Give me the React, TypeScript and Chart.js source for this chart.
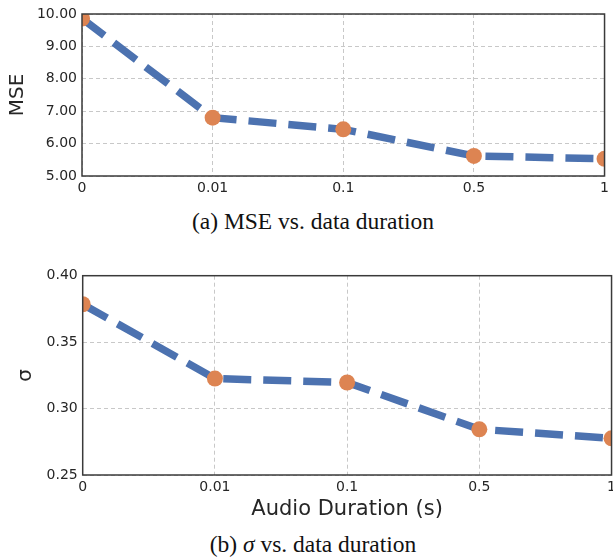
import React, { useEffect, useRef } from "react";
import { Chart, registerables } from "chart.js";

Chart.register(...registerables);

const durations = ["0", "0.01", "0.1", "0.5", "1"];
const mseValues = [9.86, 6.8, 6.44, 5.62, 5.53];
const sigmaValues = [0.3785, 0.3226, 0.3196, 0.2844, 0.2776];
const mseTicks = [5, 6, 7, 8, 9, 10];
const sigmaTicks = [0.25, 0.3, 0.35, 0.4];

const LINE_COLOR = "#4C72B0";
const POINT_COLOR = "#DD8452";
const GRID_COLOR = "#c8c8c8";
const TEXT_COLOR = "#262626";
const FONT = "'DejaVu Sans', sans-serif";

const framePlugin = {
  id: "frame",
  afterDatasetsDraw(chart: any) {
    const { ctx, chartArea: a } = chart;
    ctx.save();
    ctx.strokeStyle = "#3a3a3a";
    ctx.lineWidth = 1.5;
    ctx.strokeRect(a.left, a.top, a.right - a.left, a.bottom - a.top);
    ctx.restore();
  },
};

type Opts = {
  values: number[];
  ticks: number[];
  yTitle: string;
  xTitle?: string;
  padding: { left: number; top: number; right: number; bottom: number };
  yWidth: number;
  xHeight: number;
};

function makeConfig(o: Opts): any {
  return {
    type: "line",
    data: {
      labels: durations,
      datasets: [
        {
          data: o.values,
          borderColor: LINE_COLOR,
          borderWidth: 7.5,
          borderDash: [28, 12],
          borderCapStyle: "butt",
          pointRadius: 8,
          pointHoverRadius: 8,
          pointBackgroundColor: POINT_COLOR,
          pointBorderWidth: 0,
          pointBorderColor: POINT_COLOR,
          tension: 0,
          fill: false,
          clip: 0,
        },
      ],
    },
    options: {
      responsive: false,
      animation: false,
      devicePixelRatio: 1,
      layout: { padding: o.padding },
      plugins: {
        legend: { display: false },
        tooltip: { enabled: false },
        title: { display: false },
      },
      scales: {
        x: {
          type: "category",
          offset: false,
          grid: {
            color: GRID_COLOR,
            lineWidth: 1,
            drawTicks: false,
          },
          border: { display: false, dash: [4, 3] },
          ticks: {
            color: TEXT_COLOR,
            font: { family: FONT, size: 14 },
            padding: 4,
            maxRotation: 0,
            autoSkip: false,
          },
          title: o.xTitle
            ? {
                display: true,
                text: o.xTitle,
                color: TEXT_COLOR,
                font: { family: FONT, size: 21 },
                padding: 0,
              }
            : { display: false },
          afterFit: (axis: any) => {
            axis.height = o.xHeight;
          },
        },
        y: {
          type: "linear",
          min: o.ticks[0],
          max: o.ticks[o.ticks.length - 1],
          afterBuildTicks: (axis: any) => {
            axis.ticks = o.ticks.map((v) => ({ value: v }));
          },
          grid: {
            color: GRID_COLOR,
            lineWidth: 1,
            drawTicks: false,
          },
          border: { display: false, dash: [4, 3] },
          ticks: {
            color: TEXT_COLOR,
            font: { family: FONT, size: 14 },
            padding: 5,
            callback: (v: any) => Number(v).toFixed(2),
          },
          title: {
            display: true,
            text: o.yTitle,
            color: TEXT_COLOR,
            font: { family: FONT, size: 20 },
            padding: 0,
          },
          afterFit: (axis: any) => {
            axis.width = o.yWidth;
          },
        },
      },
    },
    plugins: [framePlugin],
  };
}

function LineChart(props: Opts & { width: number; height: number; style: any }) {
  const ref = useRef<HTMLCanvasElement>(null);
  useEffect(() => {
    if (!ref.current) return;
    const chart = new Chart(ref.current, makeConfig(props));
    return () => chart.destroy();
  }, []);
  return (
    <canvas
      ref={ref}
      width={props.width}
      height={props.height}
      style={{ position: "absolute", display: "block", width: props.width, height: props.height, ...props.style }}
    />
  );
}

export default function App() {
  const caption: any = {
    position: "absolute",
    left: 313,
    transform: "translateX(-50%)",
    whiteSpace: "nowrap",
    fontFamily: "'Liberation Serif', 'Times New Roman', serif",
    fontSize: 23.5,
    lineHeight: "23.5px",
    color: "#111",
  };
  return (
    <div
      style={{
        position: "fixed",
        left: 0,
        top: 0,
        width: 613,
        height: 560,
        overflow: "hidden",
        background: "#fff",
      }}
    >
      <LineChart
        values={mseValues}
        ticks={mseTicks}
        yTitle="MSE"
        padding={{ left: 6, top: 14, right: 7, bottom: 0 }}
        yWidth={76}
        xHeight={24}
        width={613}
        height={200}
        style={{ left: 0, top: 0 }}
      />
      <div style={{ ...caption, top: 210 }}>(a) MSE vs. data duration</div>
      <LineChart
        values={sigmaValues}
        ticks={sigmaTicks}
        yTitle="σ"
        xTitle="Audio Duration (s)"
        padding={{ left: 14, top: 15.7, right: 6, bottom: 0 }}
        yWidth={68.7}
        xHeight={47}
        width={620}
        height={262}
        style={{ left: 0, top: 260 }}
      />
      <div style={{ ...caption, top: 533 }}>
        (b) <i>σ</i> vs. data duration
      </div>
    </div>
  );
}
